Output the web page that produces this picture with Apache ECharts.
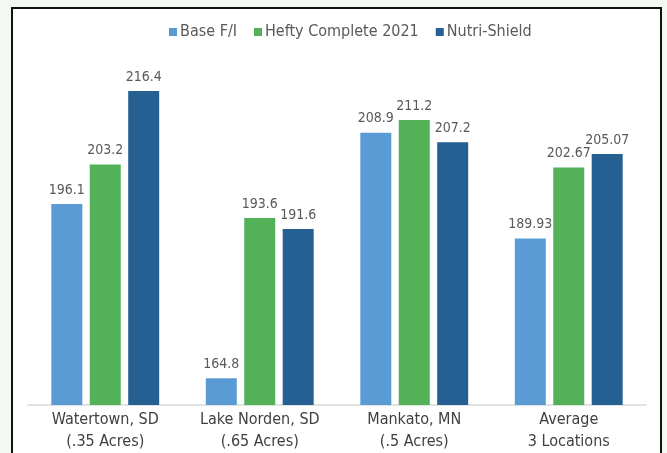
<!DOCTYPE html>
<html>
<head>
<meta charset="utf-8">
<script src="https://cdn.jsdelivr.net/npm/echarts@6/dist/echarts.min.js"></script>
<style>
    html, body { margin: 0; padding: 0; background: #f3f8f2; }
    .frame {
        position: absolute; left: 11px; top: 7px; width: 647px; height: 470px;
        border: 2px solid #111; background: #fff;
    }
    #chart { position: absolute; left: 0; top: 0; width: 667px; height: 453px; }
</style>
</head>
<body>
<div class="frame"></div>
<div id="chart"></div>
<script>
    // data
    var categories = ['Watertown, SD\n(.35 Acres)', 'Lake Norden, SD\n(.65 Acres)', 'Mankato, MN\n(.5 Acres)', 'Average\n3 Locations']
    var baseFI = [196.1, 164.8, 208.9, 189.93]
    var hefty = [203.2, 193.6, 211.2, 202.67]
    var nutriShield = [216.4, 191.6, 207.2, 205.07]

    var font = '"DejaVu Sans Condensed", "Liberation Sans Narrow", Roboto, sans-serif'

    var chart = echarts.init(document.getElementById('chart'))

    function bar(name, data, color) {
        return {
            name: name,
            type: 'bar',
            data: data,
            barWidth: 31,
            barGap: '24%',
            itemStyle: {color: color},
            label: {
                show: true,
                position: 'top',
                distance: 7,
                color: '#595959',
                fontFamily: font,
                fontSize: 14
            }
        }
    }

    chart.setOption({
        backgroundColor: 'transparent',
        animation: false,
        textStyle: {fontFamily: font},
        legend: {
            top: 19,
            left: 164,
            itemWidth: 8,
            itemHeight: 8,
            itemGap: 17,
            icon: 'rect',
            textStyle: {color: '#595959', fontSize: 16, fontFamily: font, padding: [0, 0, 0, -2]},
            data: ['Base F/I', 'Hefty Complete 2021', 'Nutri-Shield']
        },
        grid: {
            top: 71,
            bottom: 48,
            left: 28,
            right: 21
        },
        xAxis: {
            type: 'category',
            data: categories,
            axisLine: {lineStyle: {color: '#d9d9d9', width: 1.5}},
            axisTick: {show: false},
            axisLabel: {
                interval: 0,
                color: '#404040',
                fontSize: 16,
                lineHeight: 22,
                margin: 4,
                fontFamily: font
            }
        },
        yAxis: {
            type: 'value',
            min: 160,
            max: 220,
            show: false,
            splitLine: {show: false}
        },
        series: [
            bar('Base F/I', baseFI, '#5b9bd5'),
            bar('Hefty Complete 2021', hefty, '#53b157'),
            bar('Nutri-Shield', nutriShield, '#265f92')
        ]
    })
</script>
</body>
</html>
